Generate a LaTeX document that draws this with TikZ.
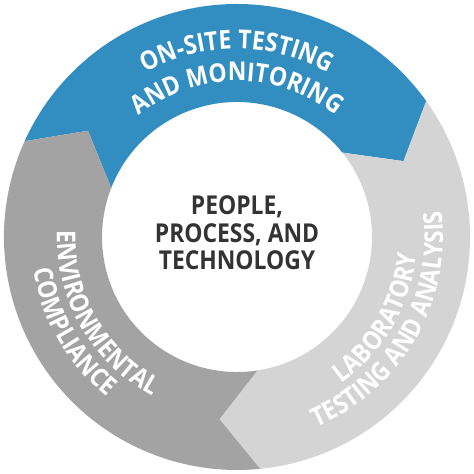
\documentclass[tikz,border=0pt]{standalone}
\usepackage{fontspec}
\usetikzlibrary{decorations.text}
\newfontfamily\ringfamily{Open Sans}[FakeStretch=0.88]
\definecolor{ringblue}{RGB}{50,142,192}
\definecolor{ringlight}{RGB}{212,212,212}
\definecolor{ringdark}{RGB}{163,163,163}
\definecolor{coretext}{RGB}{51,51,51}
\newcommand\ringtxt{\ringfamily\bfseries\fontsize{26}{30}\selectfont}
\newcommand\coretxt{\ringfamily\bfseries\fontsize{26}{27.5}\selectfont}
\begin{document}
\begin{tikzpicture}[
                seg/.style = {draw=none},
                ringlabel/.style = {decorate, decoration={text along path, text color=white, text align=center, text={#1}}},
                core/.style = {align=center, text=coretext, font=\coretxt, inner sep = 0mm},
            ]
            \useasboundingbox (-237pt,-237pt) rectangle (237pt,237pt);

            % the three arrows of the ring
            \fill[seg, ringblue] (35.7:233pt) arc[start angle=35.7, end angle=155.7, radius=233pt]
                -- (144.5:183pt) -- (158.7:135pt) arc[start angle=158.7, end angle=38.7, radius=135pt]
                -- (24.5:183pt) -- cycle;
            \fill[seg, ringlight] (-84.3:233pt) arc[start angle=-84.3, end angle=35.7, radius=233pt]
                -- (24.5:183pt) -- (38.7:135pt) arc[start angle=38.7, end angle=-81.3, radius=135pt]
                -- (-95.5:183pt) -- cycle;
            \fill[seg, ringdark] (155.7:233pt) arc[start angle=155.7, end angle=275.7, radius=233pt]
                -- (264.5:183pt) -- (278.7:135pt) arc[start angle=278.7, end angle=158.7, radius=135pt]
                -- (144.5:183pt) -- cycle;

            % ring labels (each arc is one quarter, centred on its label)
            \path[ringlabel={|\ringtxt|ON-SITE TESTING}] (135:188pt) arc[start angle=135, end angle=45, radius=188pt];
            \path[ringlabel={|\ringtxt|AND MONITORING}] (135:156pt) arc[start angle=135, end angle=45, radius=156pt];
            \path[ringlabel={|\ringtxt|LABORATORY}] (-75:180pt) arc[start angle=-75, end angle=15, radius=180pt];
            \path[ringlabel={|\ringtxt|TESTING AND ANALYSIS}] (-75:206pt) arc[start angle=-75, end angle=15, radius=206pt];
            \path[ringlabel={|\ringtxt|ENVIRONMENTAL}] (165:180pt) arc[start angle=165, end angle=255, radius=180pt];
            \path[ringlabel={|\ringtxt|COMPLIANCE}] (165:206pt) arc[start angle=165, end angle=255, radius=206pt];

            \node (core) [core] at (0,4pt) {PEOPLE,\\PROCESS, AND\\TECHNOLOGY};
        \end{tikzpicture}
\end{document}
